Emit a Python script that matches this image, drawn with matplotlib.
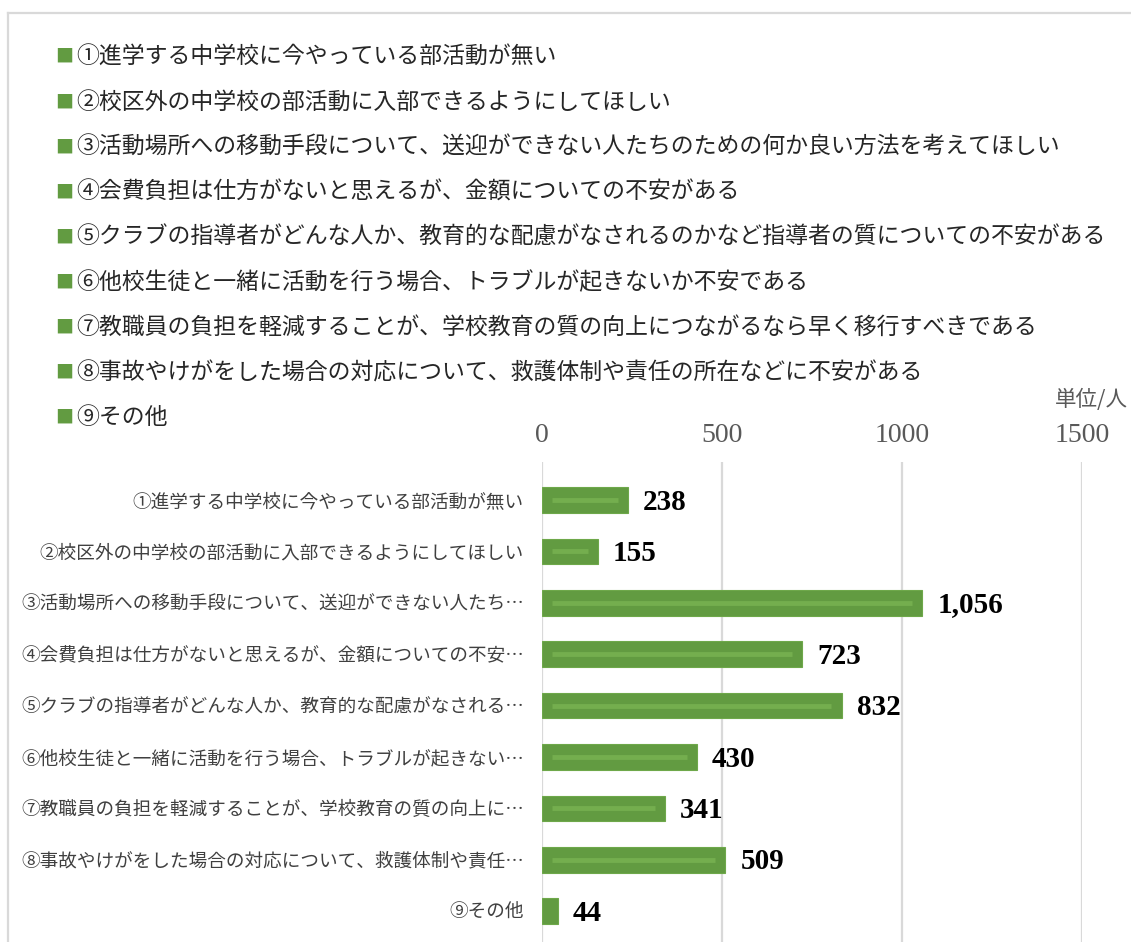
import matplotlib
matplotlib.use('Agg')
import matplotlib.pyplot as plt
from matplotlib.lines import Line2D

plt.rcParams['font.family'] = ['Noto Sans CJK JP', 'DejaVu Sans']

# full item texts (legend) and truncated axis labels
items = [
    '①進学する中学校に今やっている部活動が無い',
    '②校区外の中学校の部活動に入部できるようにしてほしい',
    '③活動場所への移動手段について、送迎ができない人たちのための何か良い方法を考えてほしい',
    '④会費負担は仕方がないと思えるが、金額についての不安がある',
    '⑤クラブの指導者がどんな人か、教育的な配慮がなされるのかなど指導者の質についての不安がある',
    '⑥他校生徒と一緒に活動を行う場合、トラブルが起きないか不安である',
    '⑦教職員の負担を軽減することが、学校教育の質の向上につながるなら早く移行すべきである',
    '⑧事故やけがをした場合の対応について、救護体制や責任の所在などに不安がある',
    '⑨その他',
]
bar_labels = [
    '①進学する中学校に今やっている部活動が無い',
    '②校区外の中学校の部活動に入部できるようにしてほしい',
    '③活動場所への移動手段について、送迎ができない人たち…',
    '④会費負担は仕方がないと思えるが、金額についての不安…',
    '⑤クラブの指導者がどんな人か、教育的な配慮がなされる…',
    '⑥他校生徒と一緒に活動を行う場合、トラブルが起きない…',
    '⑦教職員の負担を軽減することが、学校教育の質の向上に…',
    '⑧事故やけがをした場合の対応について、救護体制や責任…',
    '⑨その他',
]
values = [238, 155, 1056, 723, 832, 430, 341, 509, 44]
xticks = [0, 500, 1000, 1500]
unit_label = '単位/人'

BAR = '#629B41'
HILITE = '#74AE4E'
GRID = '#D9D9D9'

W, H = 1131, 942
fig = plt.figure(figsize=(W / 100, H / 100), dpi=100)

# outer frame (top and left edges visible)
fig.add_artist(Line2D([8 / W, 1], [1 - 13 / H, 1 - 13 / H], color=GRID, lw=1.6))
fig.add_artist(Line2D([8 / W, 8 / W], [0, 1 - 13 / H], color=GRID, lw=1.6))

# legend-like list at the top
for i, t in enumerate(items):
    y = 1 - (57 + 45.1 * i) / H
    fig.text(55 / W, y, '■', color=BAR, fontsize=13, va='center', ha='left')
    fig.text(76 / W, y, t, color='#262626', fontsize=16.5, va='center', ha='left')

ax = fig.add_axes([542 / W, 0, 540 / W, 480 / H])
y = list(range(len(values)))
ax.barh(y, values, height=0.5, color=BAR, edgecolor='#6EA84A', lw=0.8, zorder=3)

# lighter stripe inside each bar
pad = 28
for yi, v in zip(y, values):
    if v > 2 * pad:
        ax.plot([pad, v - pad], [yi, yi], color=HILITE, lw=3.5, solid_capstyle='butt', zorder=4)
    ax.text(v + 42, yi + 0.04, f'{v:,}', va='center', ha='left', fontsize=21,
            family='Liberation Serif', weight='bold', color='black', zorder=5)

ax.set_xlim(0, 1500)
ax.set_ylim(8.6, -0.739)
ax.set_xticks(xticks)
ax.set_xticklabels([str(t) for t in xticks], family='Liberation Serif', fontsize=20, color='#595959')
ax.xaxis.tick_top()
ax.tick_params(axis='x', length=0, pad=10)
ax.set_yticks(y)
ax.set_yticklabels(bar_labels, fontsize=13.4, color='#404040')
ax.tick_params(axis='y', length=0, pad=13)
ax.grid(axis='x', color=GRID, lw=1.6, zorder=0)
for s in ax.spines.values():
    s.set_visible(False)

fig.text(1128 / W, 1 - 400 / H, unit_label, fontsize=15.5, color='#595959', ha='right', va='center')

fig.savefig('out.png', dpi=100)
